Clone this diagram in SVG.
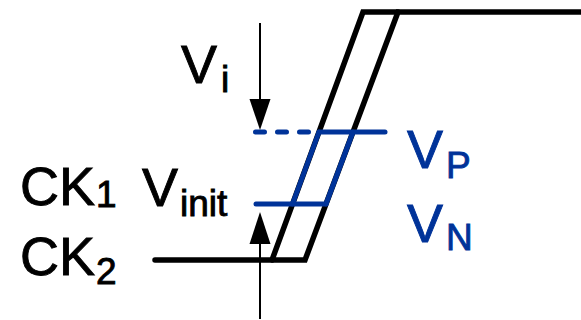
<svg xmlns="http://www.w3.org/2000/svg" width="581" height="320" viewBox="0 0 581 320">
<style>
  .lbl { font-family: "Liberation Sans", Arial, sans-serif; font-size: 54px; fill: #000; stroke: #000; stroke-width: 0.9; }
  .sub { font-size: 37px; }
  .blue { fill: #003399; stroke: #003399; }
  .wave { fill: none; stroke: #000; stroke-width: 5.5; stroke-linejoin: miter; stroke-linecap: round; }
  .lvl { fill: none; stroke: #003399; stroke-width: 5; stroke-linecap: round; stroke-linejoin: miter; }
  .arr { stroke: #000; stroke-width: 2; fill: none; }
</style>
<g id="waveforms">
  <path id="ck2" class="wave" d="M155,260 H305 L398,12 H584"/>
  <path id="ck1" class="wave" d="M272,260 L363,12 H398"/>
</g>
<g id="levels">
  <path id="vp-dash" class="lvl" d="M255.5,132 H310" stroke-dasharray="9 13"/>
  <path id="vp" class="lvl" d="M319,132 H385"/>
  <path id="vn" class="lvl" d="M256,204 H326"/>
  <path id="blue-diag" class="lvl" d="M292.5,204 L319,132 M326,204 L353,132"/>
</g>
<g id="connectors">
  <line class="arr" x1="260" y1="23" x2="260" y2="102"/>
  <polygon points="249.5,99 270.5,99 260,130" fill="#000"/>
  <line class="arr" x1="260" y1="319" x2="260" y2="240"/>
  <polygon points="249.5,244 270.5,244 260,212" fill="#000"/>
</g>
<g id="label-vi"><text class="lbl" x="181" y="83">V<tspan class="sub" x="221" y="92">i</tspan></text></g>
<g id="label-ck1"><text class="lbl" x="20" y="205">CK<tspan class="sub" x="96" y="207">1</tspan></text></g>
<g id="label-ck2"><text class="lbl" x="20" y="275">CK<tspan class="sub" x="96" y="284">2</tspan></text></g>
<g id="label-vinit"><text class="lbl" x="142" y="206">V<tspan class="sub" x="180" y="216">init</tspan></text></g>
<g id="label-vp"><text class="lbl blue" x="407" y="168">V<tspan class="sub" x="446" y="178">P</tspan></text></g>
<g id="label-vn"><text class="lbl blue" x="407" y="242">V<tspan class="sub" x="446" y="250">N</tspan></text></g>
</svg>
